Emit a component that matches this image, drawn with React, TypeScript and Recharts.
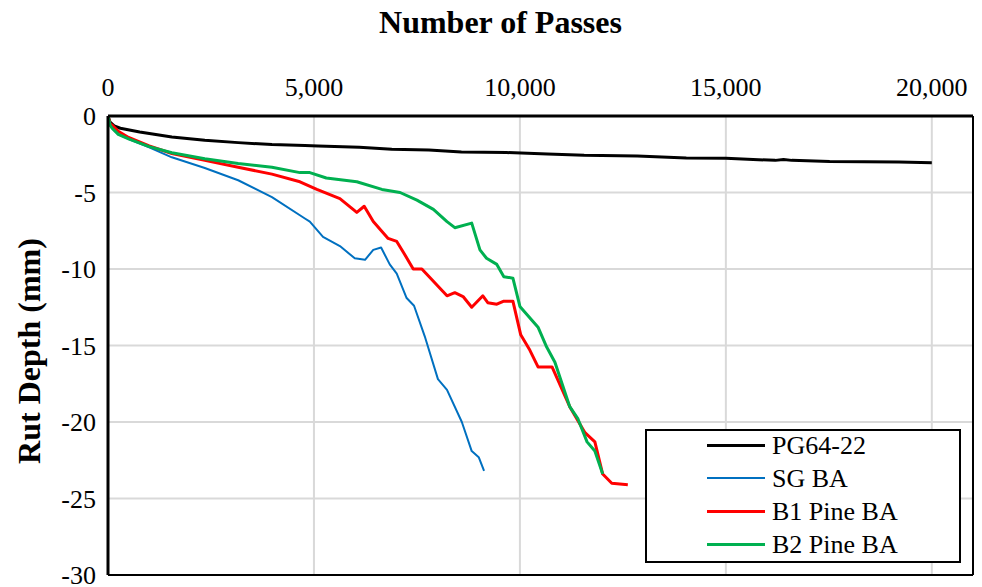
import React from 'react';
import { LineChart, Line, XAxis, YAxis, CartesianGrid, ReferenceLine } from 'recharts';

const FONT = 'Liberation Serif, Tinos, Times New Roman, DejaVu Serif, serif';

const xTicks = [0, 5000, 10000, 15000, 20000];
const yTicks = [-30, -25, -20, -15, -10, -5, 0];

const pgPasses = [0, 50, 150, 300, 770, 1550, 2350, 3160, 3980, 4780, 5100, 6100, 6890, 7790, 8580, 9670, 10670, 11560, 12850, 14040, 15000, 15530, 16200, 16400, 16600, 17520, 19200, 20000];
const pgDepth = [0, -0.4, -0.65, -0.8, -1.04, -1.37, -1.59, -1.74, -1.87, -1.93, -1.96, -2.05, -2.18, -2.22, -2.35, -2.39, -2.48, -2.57, -2.61, -2.74, -2.76, -2.83, -2.9, -2.84, -2.9, -2.98, -3.0, -3.05];

const sgPasses = [0, 50, 100, 250, 500, 1000, 1550, 2350, 3160, 3980, 4780, 4900, 5220, 5630, 5990, 6240, 6440, 6630, 6840, 7010, 7250, 7430, 7690, 7770, 8010, 8230, 8590, 8830, 9000, 9130];
const sgDepth = [0, -0.6, -0.8, -1.2, -1.5, -2.05, -2.7, -3.4, -4.2, -5.3, -6.7, -6.9, -7.9, -8.5, -9.3, -9.4, -8.75, -8.6, -9.7, -10.3, -11.9, -12.4, -14.4, -15.1, -17.2, -17.9, -20.0, -21.9, -22.3, -23.2];

const b1Passes = [0, 50, 100, 250, 500, 1000, 1550, 2350, 3160, 3980, 4660, 5070, 5630, 6040, 6220, 6440, 6800, 7010, 7170, 7410, 7620, 8230, 8420, 8620, 8830, 9100, 9220, 9440, 9610, 9830, 10020, 10240, 10440, 10780, 11210, 11580, 11820, 12010, 12230, 12620];
const b1Depth = [0, -0.5, -0.6, -1.0, -1.4, -1.95, -2.45, -2.9, -3.35, -3.8, -4.3, -4.8, -5.4, -6.3, -5.9, -6.9, -8.0, -8.2, -8.9, -10.0, -10.0, -11.75, -11.55, -11.8, -12.5, -11.75, -12.2, -12.3, -12.1, -12.1, -14.3, -15.3, -16.4, -16.4, -19.0, -20.7, -21.3, -23.4, -24.0, -24.1];

const b2Passes = [0, 50, 100, 250, 500, 1000, 1550, 2350, 3160, 3980, 4660, 4900, 5300, 6040, 6650, 7090, 7500, 7900, 8230, 8420, 8830, 9030, 9190, 9440, 9610, 9830, 10000, 10440, 10650, 10850, 11210, 11410, 11630, 11820, 12010];
const b2Depth = [0, -0.6, -0.8, -1.2, -1.5, -2.0, -2.4, -2.8, -3.1, -3.35, -3.7, -3.7, -4.05, -4.3, -4.8, -5.0, -5.5, -6.1, -6.9, -7.3, -7.0, -8.75, -9.3, -9.7, -10.5, -10.6, -12.45, -13.8, -15.1, -16.1, -19.0, -19.8, -21.3, -21.9, -23.4];

const seriesNames = ['PG64-22', 'SG BA', 'B1 Pine BA', 'B2 Pine BA'];
const seriesColors = ['#000000', '#0070C0', '#FF0000', '#00B050'];
const seriesWidths = [3, 2, 3, 3];

const chartTitle = 'Number of Passes';
const yTitle = 'Rut Depth (mm)';

const toRows = (xs: number[], ys: number[]) => xs.map((x, i) => ({ x, y: ys[i] }));

const seriesData = [
  toRows(pgPasses, pgDepth),
  toRows(sgPasses, sgDepth),
  toRows(b1Passes, b1Depth),
  toRows(b2Passes, b2Depth),
];

const tickStyle = { fontSize: 26, fill: '#000', fontFamily: FONT };

export default function App() {
  return (
    <div style={{ position: 'relative', width: 974, height: 579, fontFamily: FONT }}>
      <div
        style={{
          position: 'absolute',
          left: 0,
          top: -4.5,
          width: 985,
          textAlign: 'center',
          fontFamily: FONT,
          fontSize: 32,
          fontWeight: 'bold',
          lineHeight: '36px',
          color: '#000',
          whiteSpace: 'nowrap',
        }}
      >
        {chartTitle}
      </div>
      <LineChart width={974} height={579} margin={{ top: 0, right: 9, bottom: 12, left: 0 }} style={{ fontFamily: FONT }}>
        <CartesianGrid stroke="#d9d9d9" strokeWidth={2} />
        <XAxis
          type="number"
          dataKey="x"
          orientation="top"
          domain={[0, 21000]}
          ticks={xTicks}
          interval={0}
          height={108}
          tickLine={false}
          tickMargin={14}
          axisLine={{ stroke: '#000', strokeWidth: 3 }}
          tick={tickStyle}
          tickFormatter={(v: number) => v.toLocaleString('en-US')}
          allowDataOverflow
        />
        <YAxis
          type="number"
          domain={[-30, 0]}
          ticks={yTicks}
          interval={0}
          width={100}
          tickLine={false}
          tickMargin={6}
          axisLine={{ stroke: '#000', strokeWidth: 3 }}
          tick={tickStyle}
          allowDataOverflow
        />
        <ReferenceLine x={21000} stroke="#000" strokeWidth={2} ifOverflow="visible" />
        <ReferenceLine y={-30} stroke="#000" strokeWidth={2} ifOverflow="visible" />
        {seriesData.map((d, i) => (
          <Line
            key={seriesNames[i]}
            data={d}
            dataKey="y"
            name={seriesNames[i]}
            type="linear"
            stroke={seriesColors[i]}
            strokeWidth={seriesWidths[i]}
            strokeLinejoin="round"
            dot={false}
            activeDot={false}
            isAnimationActive={false}
          />
        ))}
        <text
          x={32}
          y={343}
          textAnchor="middle"
          fontSize={32}
          fontWeight="bold"
          fontFamily={FONT}
          fill="#000"
          transform="rotate(-90, 32, 343)"
        >
          {yTitle}
        </text>
      </LineChart>
      <div
        style={{
          position: 'absolute',
          left: 637,
          top: 421,
          width: 316,
          height: 134,
          border: '2px solid #000',
          boxSizing: 'border-box',
          background: '#fff',
          fontFamily: FONT,
          fontSize: 26,
          color: '#000',
        }}
      >
        {seriesNames.map((n, i) => (
          <div
            key={n}
            style={{
              position: 'absolute',
              left: 0,
              top: -2.5 + i * 33.3,
              height: 33,
              display: 'flex',
              alignItems: 'center',
              whiteSpace: 'nowrap',
            }}
          >
            <div style={{ marginLeft: 60, width: 58, height: seriesWidths[i], background: seriesColors[i] }} />
            <span style={{ marginLeft: 7, lineHeight: '33px' }}>{n}</span>
          </div>
        ))}
      </div>
    </div>
  );
}
